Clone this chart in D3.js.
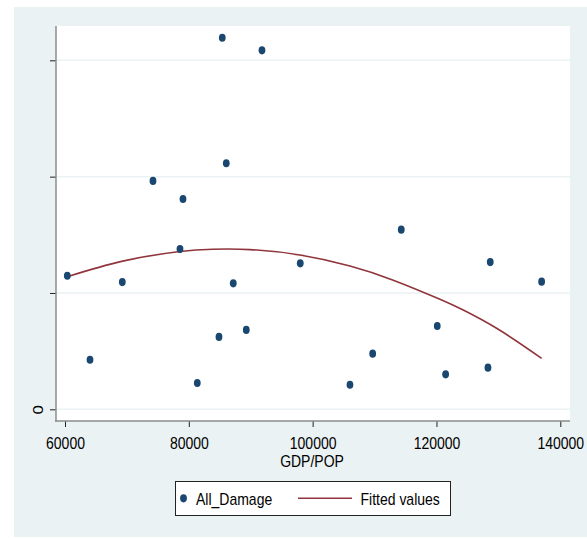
<!DOCTYPE html>
<html>
<head>
<meta charset="utf-8">
<script src="https://cdn.jsdelivr.net/npm/d3@7"></script>
<style>
  html, body { margin: 0; padding: 0; background: #ffffff; }
  svg { display: block; }
  text { font-family: "Liberation Sans", Arial, Helvetica, sans-serif; fill: #000; }
</style>
</head>
<body>
<svg id="chart" width="587" height="539"></svg>
<script>
// ---- data (y in arbitrary units, tick labels hidden except 0) ----
const gdpPop = [60371, 64038, 69254, 74212, 78573, 79057, 81366, 84871, 85404, 86050, 87180,
                89280, 91816, 98001, 106028, 109694, 114312, 120126, 121483, 128315, 128686, 136987];
const allDamage = [1.148, 0.426, 1.094, 1.963, 1.378, 1.808, 0.226, 0.622, 3.194, 2.115, 1.083,
                   0.682, 3.086, 1.255, 0.211, 0.478, 1.544, 0.716, 0.301, 0.358, 1.266, 1.097];
const fitX = [60371, 69319, 78573, 83854, 89878, 97953, 106028, 113021, 120563, 124325, 129978, 136987];
const fitY = [1.140, 1.274, 1.357, 1.376, 1.373, 1.326, 1.232, 1.110, 0.946, 0.853, 0.688, 0.438];
const xTicks = [60000, 80000, 100000, 120000, 140000];
const yTicks = [0, 1, 2, 3];
const yTickLabels = ["0", "", "", ""];
const legendLabels = ["All_Damage", "Fitted values"];

// ---- layout ----
const svg = d3.select("#chart");
const W = 587, H = 539;
const plot = { left: 56, right: 570, top: 26, bottom: 420.5 };
const SY = 1.2; // vertical stretch of glyphs in the reference

const x = d3.scaleLinear().domain([58546, 141567]).range([plot.left, plot.right]);
const y = d3.scaleLinear().domain([-0.0963, 3.295]).range([plot.bottom, plot.top]);

// outer background
svg.append("rect").attr("x", 14).attr("y", 7).attr("width", W - 14).attr("height", 530)
  .attr("fill", "#eaf2f3");
// plot region
svg.append("rect").attr("x", plot.left).attr("y", plot.top)
  .attr("width", plot.right - plot.left).attr("height", plot.bottom - plot.top)
  .attr("fill", "#ffffff");

// gridlines
svg.append("g").selectAll("line").data(yTicks).join("line")
  .attr("x1", plot.left).attr("x2", plot.right)
  .attr("y1", d => y(d)).attr("y2", d => y(d))
  .attr("stroke", "#eaf2f3").attr("stroke-width", 1.5);

// x axis
const xAxis = svg.append("g").attr("transform", `translate(0,${plot.bottom + 0.5})`)
  .call(d3.axisBottom(x).tickValues(xTicks).tickSize(6).tickSizeOuter(0).tickFormat(d3.format("d")));
xAxis.select(".domain").remove();
xAxis.append("line").attr("x1", plot.left - 1).attr("x2", plot.right).attr("y1", 0).attr("y2", 0)
  .attr("stroke", "#8c8c8c").attr("stroke-width", 1.5);
xAxis.selectAll(".tick line").attr("stroke", "#222").attr("stroke-width", 1);
xAxis.selectAll(".tick text")
  .attr("y", 23.6).attr("dy", 0).attr("transform", `scale(1,${SY})`)
  .style("font-size", "14px").style("font-family", "'Liberation Sans', Arial, sans-serif")
  .attr("fill", "#000");

// y axis
const yAxis = svg.append("g").attr("transform", `translate(${plot.left},0)`)
  .call(d3.axisLeft(y).tickValues(yTicks).tickSize(6).tickSizeOuter(0).tickFormat((d, i) => yTickLabels[i]));
yAxis.select(".domain").remove();
yAxis.append("line").attr("x1", 0).attr("x2", 0).attr("y1", plot.top).attr("y2", plot.bottom + 1)
  .attr("stroke", "#8c8c8c").attr("stroke-width", 1.5);
yAxis.selectAll(".tick line").attr("stroke", "#222").attr("stroke-width", 1);
yAxis.selectAll(".tick text")
  .attr("x", 0).attr("dy", 0)
  .attr("transform", "translate(-13,0) rotate(-90) scale(1.2,1)")
  .attr("text-anchor", "middle")
  .style("font-size", "14px").style("font-family", "'Liberation Sans', Arial, sans-serif")
  .attr("fill", "#000");

// x axis title
svg.append("text").attr("transform", `translate(312,467) scale(1,${SY})`)
  .attr("text-anchor", "middle").style("font-size", "14px").text("GDP/POP");

// fitted line
const pts = fitX.map((d, i) => [d, fitY[i]]);
svg.append("path").datum(pts)
  .attr("d", d3.line().x(d => x(d[0])).y(d => y(d[1])).curve(d3.curveNatural))
  .attr("fill", "none").attr("stroke", "#90353b").attr("stroke-width", 1.6);

// scatter points
svg.append("g").selectAll("ellipse").data(gdpPop).join("ellipse")
  .attr("cx", d => x(d)).attr("cy", (d, i) => y(allDamage[i]))
  .attr("rx", 3.4).attr("ry", 4.1).attr("fill", "#1a476f");

// legend
const lg = svg.append("g");
lg.append("rect").attr("x", 175.5).attr("y", 481.5).attr("width", 275).attr("height", 34)
  .attr("fill", "#ffffff").attr("stroke", "#222").attr("stroke-width", 1);
lg.append("ellipse").attr("cx", 183.5).attr("cy", 498.3).attr("rx", 3.4).attr("ry", 4.1).attr("fill", "#1a476f");
lg.append("text").attr("transform", `translate(196,505) scale(1,${SY})`).style("font-size", "14px").text(legendLabels[0]);
lg.append("line").attr("x1", 298).attr("x2", 352).attr("y1", 498.3).attr("y2", 498.3)
  .attr("stroke", "#90353b").attr("stroke-width", 1.6);
lg.append("text").attr("transform", `translate(360.5,505) scale(1,${SY})`).style("font-size", "14px").text(legendLabels[1]);
</script>
</body>
</html>
